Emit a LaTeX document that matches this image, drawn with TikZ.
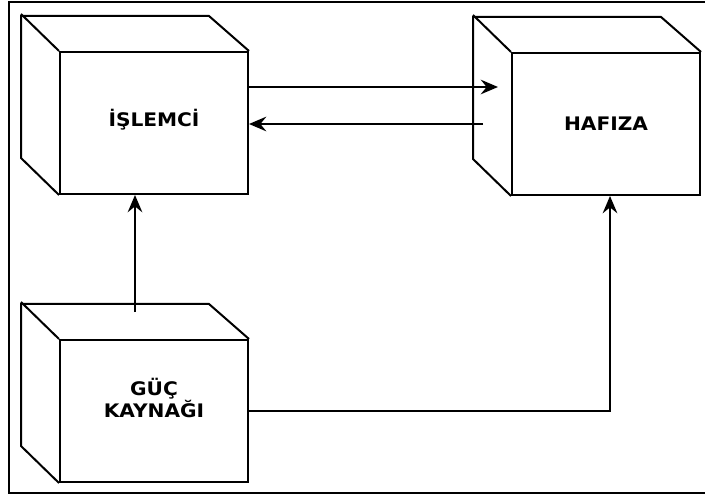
\documentclass[tikz,border=0pt]{standalone}
\usepackage{fontspec}
\newfontfamily\boxfont{DejaVu Sans}[FakeStretch=1.08]
\usepackage{tikz}
\usetikzlibrary{arrows.meta, positioning}
\tikzset{
	>={Stealth[length=13pt,width=11pt,inset=4.5pt]}, % arrow heads
	every path/.style={line width=1.5pt}, % all lines a bit heavy
	unit/.style={draw, rectangle, minimum width=141pt, minimum height=106.5pt,
		align=center, font=\boxfont\bfseries\fontsize{14}{14}\selectfont}, % front face of a box
}
% back edges of a box, offset up and left
\newcommand{\backside}[1]{%
	\draw (#1.south west) -- ++(-38,-37) -- ++(0,-142) -- ++(188,0) -- (#1.north east);
	\draw (#1.north west) -- ++(-38,-37);
}

\begin{document}
\begin{tikzpicture}[x=0.75pt, y=-0.75pt]
	\useasboundingbox (0,0) rectangle (705,498);
	\draw (9,2) rectangle (720,493); % frame

	\node (islemci) at (154,123) [unit, text depth=8pt] {İŞLEMCİ};
	\node (hafiza)  at (606,124) [unit] {HAFIZA};
	\node (guc)     at (154,411) [unit, text depth=19.5pt] {GÜÇ\\KAYNAĞI};
	\backside{islemci}
	\backside{hafiza}
	\backside{guc}

	\coordinate (hin)  at (498,87);
	\coordinate (hout) at (483,124);
	\coordinate (gtop) at (135,312);

	\draw[->] (islemci.east |- hin) -- (hin);
	\draw[->] (hout) -- (hout -| islemci.east);
	\draw[->] (gtop) -- (gtop |- islemci.south);
	\draw[->] (guc.east) -| ([xshift=3pt]hafiza.south);
\end{tikzpicture}
\end{document}
